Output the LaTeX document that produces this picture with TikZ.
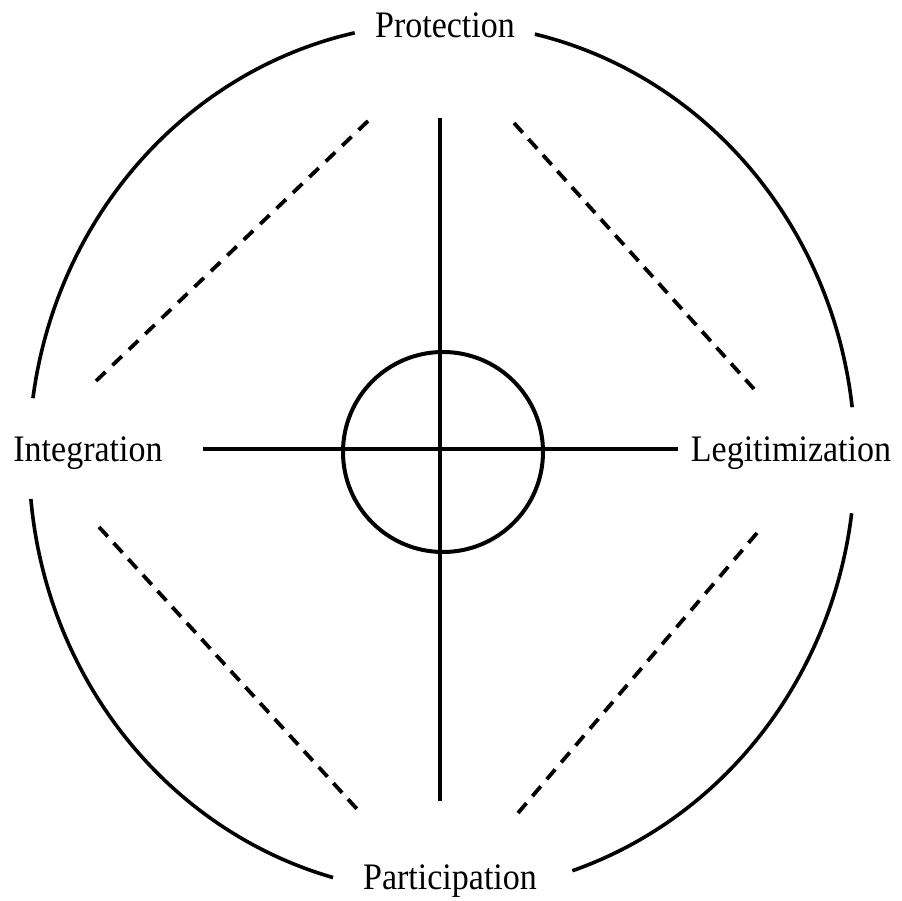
\documentclass[tikz,border=0pt]{standalone}
\usepackage{fontspec}
\setmainfont{Liberation Serif}
\usetikzlibrary{calc}
\begin{document}
\begin{tikzpicture}[x=1pt,y=1pt,
  outer/.style={line width=3.6pt},
  cross/.style={line width=3.3pt},
  diag/.style={line width=3.8pt, dash pattern=on 13pt off #1},
  diag/.default=9pt,
  hubstyle/.style={draw, circle, minimum size=200pt, inner sep=0pt, line width=4pt},
  lbl/.style={anchor=base, inner sep=0pt, font=\fontsize{34}{40}\selectfont}]
\useasboundingbox (0,0) rectangle (902,901);
% reference points
\coordinate (E) at (442,443);
\coordinate (vtop) at (440,783);
\coordinate (vbot) at (440,100);
\coordinate (hl) at (203,452);
\coordinate (hr) at (678,452);
\coordinate (tl1) at (368,780);
\coordinate (tl2) at (96,520);
\coordinate (tr1) at (514,778);
\coordinate (tr2) at (754,512);
\coordinate (bl1) at (99,374);
\coordinate (bl2) at (357,92);
\coordinate (br1) at (757,368);
\coordinate (br2) at (518,88);
% labels
\node[lbl] (prot) at (445,863) {\scalebox{1}[1.1]{Protection}};
\node[lbl] (integ) at (88,439) {\scalebox{1}[1.1]{Integration}};
\node[lbl] (legit) at (791,439) {\scalebox{1}[1.1]{Legitimization}};
\node[lbl] (partic) at (450,11) {\scalebox{1}[1.1]{Participation}};
% cross
\draw[cross] (vtop) -- (vbot);
\draw[cross] (hl) -- (hr);
% centre circle
\node[hubstyle] (hub) at (443,449) {};
% dashed diagonals
\draw[diag=9.7pt] (tl1) -- (tl2);
\draw[diag=8.6pt] (tr1) -- (tr2);
\draw[diag=8.7pt] (bl1) -- (bl2);
\draw[diag=9.2pt] (br1) -- (br2);
% outer arcs
\draw[outer] ($(E)+(102.2:413pt and 435pt)$) arc[start angle=102.2, end angle=172.1, x radius=413pt, y radius=435pt];
\draw[outer] ($(E)+(185.4:413pt and 435pt)$) arc[start angle=185.4, end angle=254.7, x radius=413pt, y radius=435pt];
\draw[outer] ($(E)+(77:413pt and 435pt)$) arc[start angle=77, end angle=6.7, x radius=413pt, y radius=435pt];
\draw[outer] ($(E)+(-7.3:413pt and 435pt)$) arc[start angle=-7.3, end angle=-71.6, x radius=413pt, y radius=435pt];
\end{tikzpicture}
\end{document}
